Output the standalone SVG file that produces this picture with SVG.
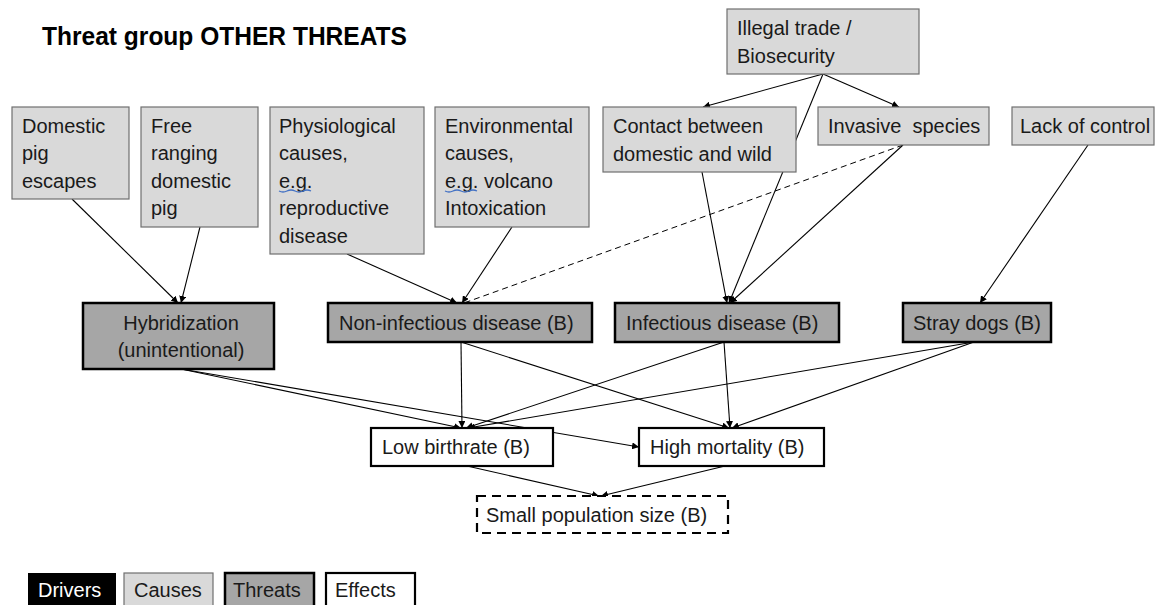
<svg xmlns="http://www.w3.org/2000/svg" width="1157" height="605" viewBox="0 0 1157 605">
<defs>
<marker id="ah" viewBox="0 0 10 10" refX="10" refY="5" markerWidth="7" markerHeight="7" markerUnits="userSpaceOnUse" orient="auto">
<path d="M0,0 L10,5 L0,10 z" fill="#000"/>
</marker>
<style>
text{font-family:"Liberation Sans",Arial,sans-serif;font-size:20px;fill:#1a1a1a}
.title{font-weight:bold;font-size:25px;fill:#000}
.cause{fill:#d9d9d9;stroke:#6f6f6f;stroke-width:1.2}
.threat{fill:#a6a6a6;stroke:#000;stroke-width:2.5}
.effect{fill:#fff;stroke:#000;stroke-width:2.2}
.dash{fill:#fff;stroke:#000;stroke-width:2.2;stroke-dasharray:9,6}
.ln{stroke:#000;stroke-width:1.1;fill:none;marker-end:url(#ah)}
.dl{stroke:#000;stroke-width:1;fill:none;stroke-dasharray:6,4}
.sq{stroke:#4472c4;stroke-width:1.3;fill:none}
</style>
</defs>
<rect width="1157" height="605" fill="#fff"/>
<text class="title" x="42" y="45" textLength="365" lengthAdjust="spacingAndGlyphs">Threat group OTHER THREATS</text>

<g id="connectors">
<line class="ln" x1="72" y1="199" x2="178" y2="303"/>
<line class="ln" x1="200" y1="227" x2="181" y2="303"/>
<line class="ln" x1="347" y1="254" x2="457" y2="303"/>
<line class="ln" x1="512" y1="227" x2="462" y2="303"/>
<line class="dl" x1="903" y1="145" x2="464" y2="303"/>
<line class="ln" x1="823" y1="74" x2="703" y2="107"/>
<line class="ln" x1="823" y1="74" x2="899" y2="107"/>
<line class="ln" x1="823" y1="74" x2="729" y2="303"/>
<line class="ln" x1="702" y1="172" x2="727" y2="303"/>
<line class="ln" x1="903" y1="145" x2="730" y2="303"/>
<line class="ln" x1="1088" y1="145" x2="980" y2="303"/>
<line class="ln" x1="181" y1="369" x2="461" y2="428"/>
<line class="ln" x1="181" y1="369" x2="639" y2="447"/>
<line class="ln" x1="461" y1="342" x2="462" y2="428"/>
<line class="ln" x1="461" y1="342" x2="729" y2="428"/>
<line class="ln" x1="724" y1="342" x2="466" y2="428"/>
<line class="ln" x1="724" y1="342" x2="730" y2="428"/>
<line class="ln" x1="974" y1="342" x2="468" y2="428"/>
<line class="ln" x1="974" y1="342" x2="732" y2="428"/>
<line class="ln" x1="467" y1="466" x2="599" y2="496"/>
<line class="ln" x1="725" y1="466" x2="601" y2="496"/>
</g>

<g id="domestic-pig-escapes">
<rect class="cause" x="12" y="107" width="117" height="92"/>
<text x="22" y="133">Domestic</text>
<text x="22" y="160">pig</text>
<text x="22" y="188">escapes</text>
</g>
<g id="free-ranging">
<rect class="cause" x="141" y="107" width="117" height="120"/>
<text x="151" y="133">Free</text>
<text x="151" y="160">ranging</text>
<text x="151" y="188">domestic</text>
<text x="151" y="215">pig</text>
</g>
<g id="physiological">
<rect class="cause" x="270" y="107" width="154" height="147"/>
<text x="279" y="133">Physiological</text>
<text x="279" y="160">causes,</text>
<text x="279" y="188">e.g.</text>
<text x="279" y="215">reproductive</text>
<text x="279" y="243">disease</text>
<path class="sq" d="M279,191 q4,2 8,0 t8,0 t8,0 t8,0"/>
</g>
<g id="environmental">
<rect class="cause" x="435" y="107" width="154" height="120"/>
<text x="445" y="133">Environmental</text>
<text x="445" y="160">causes,</text>
<text x="445" y="188">e.g. volcano</text>
<text x="445" y="215">Intoxication</text>
<path class="sq" d="M445,191 q4,2 8,0 t8,0 t8,0 t8,0"/>
</g>
<g id="illegal-trade">
<rect class="cause" x="727" y="9" width="192" height="65"/>
<text x="737" y="35">Illegal trade /</text>
<text x="737" y="63">Biosecurity</text>
</g>
<g id="contact">
<rect class="cause" x="603" y="107" width="193" height="65"/>
<text x="613" y="133">Contact between</text>
<text x="613" y="161">domestic and wild</text>
</g>
<g id="invasive">
<rect class="cause" x="818" y="107" width="171" height="38"/>
<text x="828" y="133" xml:space="preserve">Invasive  species</text>
</g>
<g id="lack-of-control">
<rect class="cause" x="1012" y="107" width="142" height="38"/>
<text x="1020" y="133">Lack of control</text>
</g>

<g id="hybridization">
<rect class="threat" x="83" y="303" width="191" height="66"/>
<text x="181" y="330" text-anchor="middle">Hybridization</text>
<text x="181" y="357" text-anchor="middle">(unintentional)</text>
</g>
<g id="non-infectious">
<rect class="threat" x="328" y="303" width="264" height="39"/>
<text x="339" y="330">Non-infectious disease (B)</text>
</g>
<g id="infectious">
<rect class="threat" x="615" y="303" width="224" height="39"/>
<text x="626" y="330">Infectious disease (B)</text>
</g>
<g id="stray-dogs">
<rect class="threat" x="903" y="303" width="148" height="39"/>
<text x="913" y="330">Stray dogs (B)</text>
</g>

<g id="low-birthrate">
<rect class="effect" x="371" y="428" width="182" height="38"/>
<text x="382" y="454">Low birthrate (B)</text>
</g>
<g id="high-mortality">
<rect class="effect" x="639" y="428" width="185" height="38"/>
<text x="650" y="454">High mortality (B)</text>
</g>
<g id="small-population">
<rect class="dash" x="477" y="496" width="251" height="37"/>
<text x="486" y="522">Small population size (B)</text>
</g>

<g id="legend">
<rect x="28" y="573" width="88" height="40" fill="#000"/>
<text x="38" y="597" style="fill:#fff">Drivers</text>
<rect class="cause" x="124" y="573" width="89" height="40"/>
<text x="134" y="597">Causes</text>
<rect class="threat" x="225" y="573" width="89" height="40"/>
<text x="233" y="597">Threats</text>
<rect class="effect" x="326" y="573" width="89" height="40"/>
<text x="335" y="597">Effects</text>
</g>
</svg>
